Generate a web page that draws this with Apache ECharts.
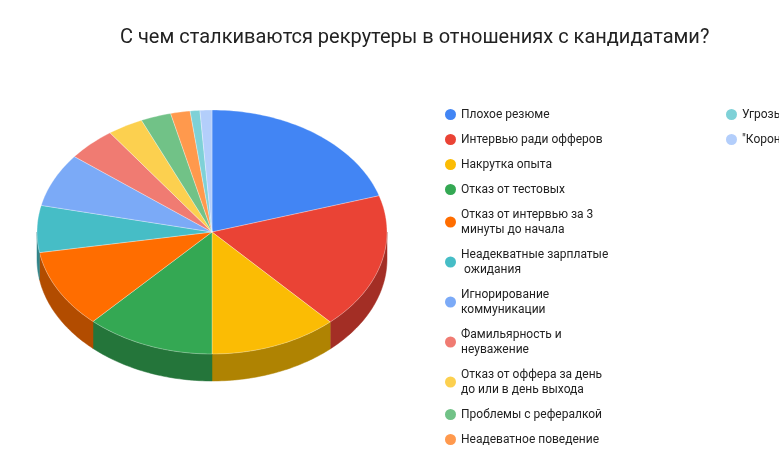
<!DOCTYPE html>
<html><head><meta charset="utf-8">
<script src="https://cdn.jsdelivr.net/npm/echarts@6/dist/echarts.min.js"></script>
<style>html,body{margin:0;padding:0;background:#fff}#c{width:779px;height:470px}</style>
</head><body><div id="c"></div>
<script>
const categories = ["Плохое резюме","Интервью ради офферов","Накрутка опыта","Отказ от тестовых","Отказ от интервью за 3 минуты до начала","Неадекватные зарплатые ожидания","Игнорирование коммуникации","Фамильярность и неуважение","Отказ от оффера за день до или в день выхода","Проблемы с рефералкой","Неадеватное поведение","Угрозы и давление","\"Корона на голове\""];
const values = [20.2,18.0,11.8,11.9,10.4,6.2,7.1,4.5,3.3,2.8,1.8,0.9,1.1];
const colors = ["#4285f4","#ea4335","#fbbc04","#34a853","#ff6d00","#46bdc6","#7baaf7","#f07b72","#fcd04f","#71c287","#ff994d","#7ed1d7","#b3cefb"];
function darken(h,f){const n=parseInt(h.slice(1),16);const r=((n>>16)&255)*f|0,g=((n>>8)&255)*f|0,b=(n&255)*f|0;return `rgb(${r},${g},${b})`;}
const total = values.reduce((a,b)=>a+b,0);
const cum=[0];values.forEach((v,i)=>cum.push(cum[i]+v));
const CX=212,CY=232,RX=175,RY=122,D=27;
function pt(a,dy){return [CX+RX*Math.sin(a),CY-RY*Math.cos(a)+(dy||0)];}
function renderItem(params,api){
  const i=params.dataIndex;
  const a0=cum[i]/total*2*Math.PI,a1=cum[i+1]/total*2*Math.PI;
  const ch=[];
  const s0=Math.max(a0,Math.PI/2),s1=Math.min(a1,3*Math.PI/2);
  if(s1>s0){const top=[],bot=[];const n=40;
    for(let k=0;k<=n;k++){const a=s0+(s1-s0)*k/n;top.push(pt(a));bot.unshift(pt(a,D));}
    ch.push({type:'polygon',shape:{points:top.concat(bot)},style:{fill:darken(colors[i],0.7),stroke:darken(colors[i],0.7),lineWidth:0.5}});}
  const pts=[[CX,CY]];const n=Math.max(4,Math.ceil((a1-a0)*40));
  for(let k=0;k<=n;k++)pts.push(pt(a0+(a1-a0)*k/n));
  ch.push({type:'polygon',shape:{points:pts},style:{fill:colors[i],stroke:'#fff',lineWidth:0.3}});
  return {type:'group',children:ch};
}
const chart=echarts.init(document.getElementById('c'));
chart.setOption({
  animation:false,
  title:{text:"С чем сталкиваются рекрутеры в отношениях с кандидатами?",left:115,top:23,textStyle:{fontFamily:'Roboto',fontSize:20,fontWeight:'normal',color:'#222'}},
  legend:{orient:'vertical',left:440,top:102,width:330,height:360,icon:'circle',itemWidth:11,itemHeight:11,itemGap:10,
    textStyle:{fontFamily:'Roboto',fontSize:12,color:'#222',width:255,overflow:'break',lineHeight:15},data:categories},
  color:colors,
  series:[
    {type:'pie',radius:[0,0],center:[-100,-100],label:{show:false},silent:true,data:categories.map((c,i)=>({name:c,value:values[i]}))},
    {type:'custom',coordinateSystem:'none',renderItem:renderItem,data:values,silent:true}
  ]
});
</script></body></html>
